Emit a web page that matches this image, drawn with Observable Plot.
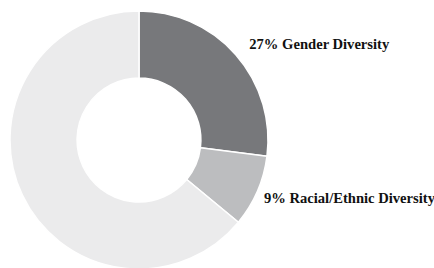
<!DOCTYPE html>
<html>
<head>
<meta charset="utf-8">
<script src="https://cdn.jsdelivr.net/npm/d3@7"></script>
<script src="https://cdn.jsdelivr.net/npm/@observablehq/plot@0.6"></script>
<style>
  html, body { margin: 0; padding: 0; background: #fff; }
  #chart svg { display: block; }
</style>
</head>
<body>
<div id="chart"></div>
<script>
const categories = ["Gender Diversity", "Racial/Ethnic Diversity", "Other"];
const values = [27, 9, 64];
const labels = ["27% Gender Diversity", "9% Racial/Ethnic Diversity", ""];
const colors = ["#77787b", "#bcbdbf", "#ebebec"];

const data = categories.map((c, i) => ({category: c, value: values[i], label: labels[i], color: colors[i]}));
const arcs = d3.pie().sort(null).value(d => d.value)(data);
arcs.forEach(a => { a.mid = (a.startAngle + a.endAngle) / 2; });

const innerRatio = 0.48;

function donut(index, scales) {
  const cx = scales.x(0), cy = scales.y(0);
  const R = scales.x(1) - scales.x(0);
  const arc = d3.arc().innerRadius(R * innerRatio).outerRadius(R);
  const g = d3.create("svg:g").attr("transform", `translate(${cx},${cy})`);
  g.selectAll("path").data(arcs).join("path")
    .attr("d", arc)
    .attr("fill", d => d.data.color)
    .attr("stroke", "#fff")
    .attr("stroke-width", 1.5)
    .attr("stroke-linejoin", "round");
  return g.node();
}

const labelFont = {fontFamily: "'Liberation Serif', 'Times New Roman', serif", fontWeight: "bold", fontSize: 14.6, fill: "#111", textAnchor: "start", lineAnchor: "middle"};

const chart = Plot.plot({
  width: 434,
  height: 268,
  margin: 0,
  x: {domain: [-1, 1], range: [10, 268], axis: null},
  y: {domain: [-1, 1], range: [11, 269], axis: null},
  marks: [
    donut,
    Plot.text([arcs[0]], {x: d => Math.sin(d.mid), y: d => -Math.cos(d.mid), text: d => d.data.label, dx: 13, dy: -11, ...labelFont}),
    Plot.text([arcs[1]], {x: d => Math.sin(d.mid), y: d => -Math.cos(d.mid), text: d => d.data.label, dx: 6, dy: 7, ...labelFont})
  ]
});
document.getElementById("chart").append(chart);
</script>
</body>
</html>
